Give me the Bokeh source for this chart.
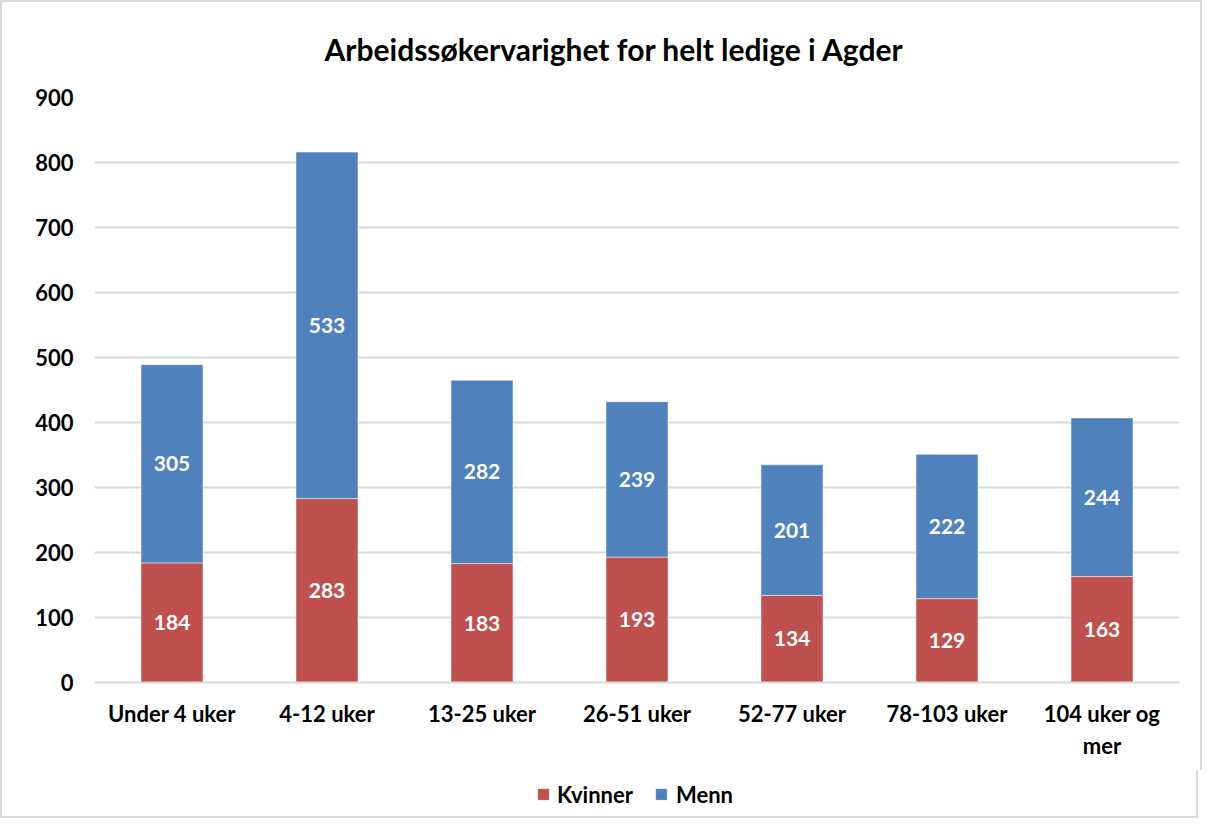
from bokeh.plotting import figure
from bokeh.layouts import column
from bokeh.models import ColumnDataSource, Range1d, FixedTicker, Legend, LegendItem
from bokeh.core.properties import value
from bokeh.embed import file_html
from bokeh.resources import INLINE

categories = ["Under 4 uker", "4-12 uker", "13-25 uker", "26-51 uker", "52-77 uker", "78-103 uker", "104 uker og\nmer"]
kvinner = [184, 283, 183, 193, 134, 129, 163]
menn = [305, 533, 282, 239, 201, 222, 244]
series_names = ["Kvinner", "Menn"]
y_ticks = [0, 100, 200, 300, 400, 500, 600, 700, 800, 900]

FONT = "Lato"
RED = "#C0504D"
BLUE = "#4F81BD"
BORDER = "2px solid #d9d9d9"

src = ColumnDataSource(dict(
    cat=categories,
    Kvinner=kvinner,
    Menn=menn,
    k_mid=[k / 2 for k in kvinner],
    m_mid=[k + m / 2 for k, m in zip(kvinner, menn)],
    k_lbl=[str(k) for k in kvinner],
    m_lbl=[str(m) for m in menn],
))

p = figure(x_range=categories, y_range=Range1d(0, 900), frame_width=1081, frame_height=583,
           output_backend="svg", toolbar_location=None,
           min_border_left=92, min_border_right=25, min_border_top=92, min_border_bottom=90)

rs = p.vbar_stack(series_names, x="cat", width=0.4, color=[RED, BLUE],
                  line_color="white", line_width=0.5, source=src)

p.text(x="cat", y="k_mid", text="k_lbl", source=src, text_color="white",
       text_font=value(FONT), text_font_style="bold", text_font_size="21px",
       text_align="center", text_baseline="middle")
p.text(x="cat", y="m_mid", text="m_lbl", source=src, text_color="white",
       text_font=value(FONT), text_font_style="bold", text_font_size="21px",
       text_align="center", text_baseline="middle")

p.title.text = "Arbeidssøkervarighet for helt ledige i Agder"
p.title.align = "left"
p.title.vertical_align = "top"
p.title.text_font = FONT
p.title.text_font_size = "30px"
p.title.text_font_style = "bold"
p.title.text_color = "#000000"
p.title.standoff = 57
p.title.offset = 230

p.yaxis.ticker = FixedTicker(ticks=y_ticks)
p.yaxis.axis_line_color = None
p.yaxis.major_tick_line_color = None
p.yaxis.minor_tick_line_color = None
p.yaxis.major_label_text_font = FONT
p.yaxis.major_label_text_font_style = "bold"
p.yaxis.major_label_text_font_size = "22px"
p.yaxis.major_label_text_color = "#000000"
p.yaxis.major_label_standoff = 15

p.xaxis.axis_line_color = "#d9d9d9"
p.xaxis.axis_line_width = 2
p.xaxis.major_tick_line_color = None
p.xaxis.minor_tick_line_color = None
p.xaxis.major_label_text_font = FONT
p.xaxis.major_label_text_font_style = "bold"
p.xaxis.major_label_text_font_size = "22px"
p.xaxis.major_label_text_color = "#000000"
p.xaxis.major_label_standoff = 11

p.xgrid.grid_line_color = None
p.ygrid.grid_line_color = "#d9d9d9"
p.ygrid.grid_line_width = 2
p.outline_line_color = None
p.styles = {"border-left": BORDER, "border-right": BORDER, "border-top": BORDER}

# legend strip below the chart: same stacked series, drawn outside the visible range
p2 = figure(x_range=categories, y_range=Range1d(2000, 2100), width=1198, height=48,
            output_backend="svg", toolbar_location=None,
            min_border_left=36, min_border_right=0, min_border_top=0, min_border_bottom=0)
p2.axis.visible = False
p2.grid.visible = False
p2.outline_line_color = None
lrs = p2.vbar_stack(series_names, x="cat", width=0.4, color=[RED, BLUE], source=src)
legend = Legend(items=[LegendItem(label=series_names[0], renderers=[lrs[0]]),
                       LegendItem(label=series_names[1], renderers=[lrs[1]])],
                orientation="horizontal", location="center",
                label_text_font=FONT, label_text_font_style="bold",
                label_text_font_size="22px", label_text_color="#000000",
                glyph_width=13, glyph_height=13, label_standoff=8,
                spacing=22, border_line_color=None, background_fill_alpha=0,
                margin=0, padding=0)
p2.add_layout(legend, "center")
p2.styles = {"border-left": BORDER, "border-right": BORDER, "border-bottom": BORDER}

layout = column(p, p2, spacing=0)

open("out.html", "w").write(file_html(layout, INLINE))
